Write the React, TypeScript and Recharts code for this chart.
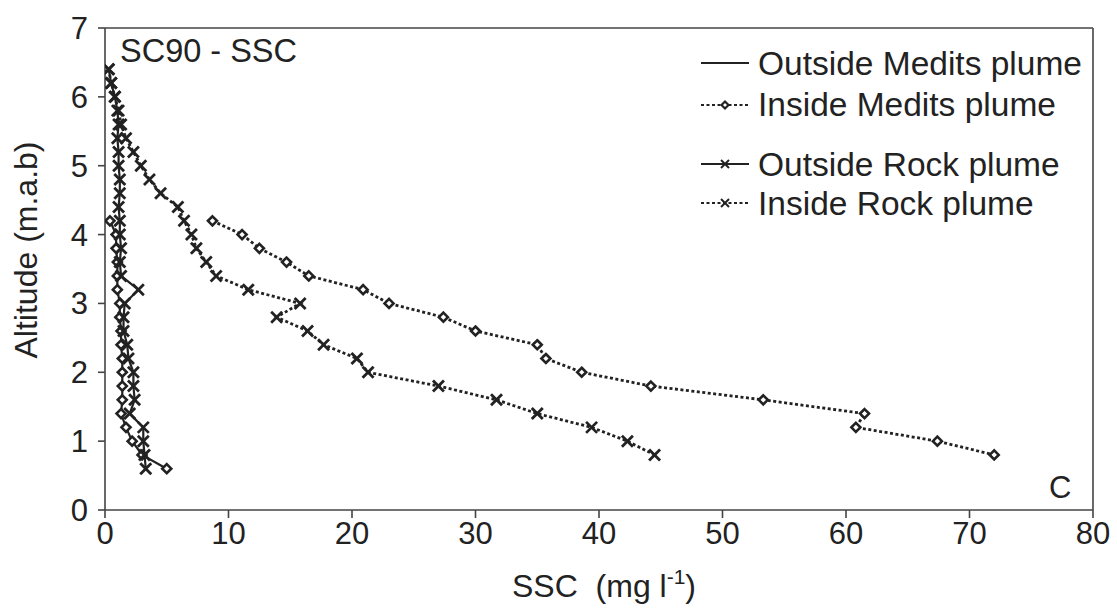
import React from 'react';
import { LineChart, Line, XAxis, YAxis, ReferenceLine, Customized } from 'recharts';

// Altitude (m.a.b) and SSC (mg/l) per profile
const outsideMeditsAlt = [4.2, 4.0, 3.8, 3.6, 3.4, 3.2, 3.0, 2.8, 2.6, 2.4, 2.2, 2.0, 1.8, 1.6, 1.4, 1.2, 1.0, 0.8, 0.6];
const outsideMeditsSSC = [0.4, 0.9, 0.9, 1.0, 1.0, 1.0, 1.2, 1.2, 1.3, 1.3, 1.4, 1.4, 1.4, 1.4, 1.3, 1.7, 2.2, 3.0, 5.0];

const insideMeditsAlt = [4.2, 4.0, 3.8, 3.6, 3.4, 3.2, 3.0, 2.8, 2.6, 2.4, 2.2, 2.0, 1.8, 1.6, 1.4, 1.2, 1.0, 0.8];
const insideMeditsSSC = [8.7, 11.1, 12.5, 14.7, 16.5, 20.9, 23.0, 27.4, 30.0, 35.0, 35.7, 38.6, 44.2, 53.3, 61.5, 60.8, 67.4, 72.0];

const outsideRockAlt = [6.4, 6.2, 6.0, 5.8, 5.6, 5.4, 5.2, 5.0, 4.8, 4.6, 4.4, 4.2, 4.0, 3.8, 3.6, 3.4, 3.2, 3.0, 2.8, 2.6, 2.4, 2.2, 2.0, 1.8, 1.6, 1.4, 1.2, 1.0, 0.8, 0.6];
const outsideRockSSC = [0.3, 0.5, 0.8, 1.0, 1.1, 1.0, 1.1, 1.1, 1.2, 1.2, 1.1, 1.2, 1.2, 1.3, 1.2, 1.3, 2.7, 1.6, 1.5, 1.5, 1.8, 1.9, 2.3, 2.3, 2.4, 2.0, 3.1, 3.1, 3.2, 3.3];

const insideRockAlt = [6.4, 6.2, 6.0, 5.8, 5.6, 5.4, 5.2, 5.0, 4.8, 4.6, 4.4, 4.2, 4.0, 3.8, 3.6, 3.4, 3.2, 3.0, 2.8, 2.6, 2.4, 2.2, 2.0, 1.8, 1.6, 1.4, 1.2, 1.0, 0.8];
const insideRockSSC = [0.3, 0.5, 0.8, 1.1, 1.3, 1.7, 2.3, 2.9, 3.6, 4.5, 5.9, 6.4, 7.0, 7.4, 8.2, 9.0, 11.6, 15.8, 13.9, 16.4, 17.7, 20.4, 21.3, 27.0, 31.7, 35.0, 39.4, 42.3, 44.5];

const xTicks = [0, 10, 20, 30, 40, 50, 60, 70, 80];
const yTicks = [0, 1, 2, 3, 4, 5, 6, 7];

const legendLabels = ['Outside Medits plume', 'Inside Medits plume', 'Outside Rock plume', 'Inside Rock plume'];
const titleText = 'SC90 - SSC';
const panelLetter = 'C';

const toPoints = (alt: number[], ssc: number[]) => alt.map((a, i) => ({ x: ssc[i], y: a }));

const INK = '#222';
const FONT = '"Liberation Sans", Arial, Helvetica, sans-serif';
const DASH = '3 2.5';

const diamondPath = (cx: number, cy: number, r: number) =>
  `M${cx},${cy - r}L${cx + r},${cy}L${cx},${cy + r}L${cx - r},${cy}Z`;

const DiamondDot = (props: any) => {
  const { cx, cy, index } = props;
  if (cx == null || cy == null) return <g key={`d-${index}`} />;
  return <path key={`d-${index}`} d={diamondPath(cx, cy, 4.5)} fill="#fff" stroke={INK} strokeWidth={2.6} />;
};

const CrossDot = (props: any) => {
  const { cx, cy, index } = props;
  if (cx == null || cy == null) return <g key={`x-${index}`} />;
  const r = 5.5;
  return (
    <g key={`x-${index}`}>
      <line x1={cx - r} y1={cy - r} x2={cx + r} y2={cy + r} stroke={INK} strokeWidth={2.8} />
      <line x1={cx - r} y1={cy + r} x2={cx + r} y2={cy - r} stroke={INK} strokeWidth={2.8} />
    </g>
  );
};

const Annotations = () => {
  const rows = [
    { ty: 75, ly: 63, dash: undefined as string | undefined, marker: 'none' },
    { ty: 116, ly: 105, dash: DASH, marker: 'diamond' },
    { ty: 176, ly: 164, dash: undefined, marker: 'cross' },
    { ty: 215, ly: 203, dash: DASH, marker: 'cross' },
  ];
  return (
    <g fontFamily={FONT} fill={INK}>
      <text x={120} y={62} fontSize={32.5}>{titleText}</text>
      <text x={1049} y={498} fontSize={31}>{panelLetter}</text>
      {rows.map((r, i) => (
        <g key={i}>
          <line x1={701} x2={749} y1={r.ly} y2={r.ly} stroke={INK} strokeWidth={2.2} strokeDasharray={r.dash} />
          {r.marker === 'diamond' && (
            <path d={diamondPath(725, r.ly, 3.5)} fill="#fff" stroke={INK} strokeWidth={2.2} />
          )}
          {r.marker === 'cross' && (
            <g>
              <line x1={721} y1={r.ly - 4} x2={729} y2={r.ly + 4} stroke={INK} strokeWidth={2} />
              <line x1={721} y1={r.ly + 4} x2={729} y2={r.ly - 4} stroke={INK} strokeWidth={2} />
            </g>
          )}
          <text x={758} y={r.ty} fontSize={33.5}>{legendLabels[i]}</text>
        </g>
      ))}
    </g>
  );
};

const XLabel = (props: any) => {
  const vb = props.viewBox || {};
  const cx = (vb.x ?? 105) + (vb.width ?? 988) / 2;
  return (
    <text x={cx + 5} y={597} textAnchor="middle" fontFamily={FONT} fontSize={32} fill={INK}>
      {'SSC\u00A0\u00A0(mg l'}
      <tspan dy={-13} fontSize={21}>-1</tspan>
      <tspan dy={13}>)</tspan>
    </text>
  );
};

const YLabel = () => (
  <text
    x={0}
    y={0}
    transform="translate(37,250) rotate(-90)"
    textAnchor="middle"
    fontFamily={FONT}
    fontSize={32}
    fill={INK}
  >
    Altitude (m.a.b)
  </text>
);

export default function App() {
  return (
    <div style={{ position: 'absolute', left: 0, top: 0, width: 1117, height: 613, background: '#fff' }}>
      <LineChart width={1117} height={613} margin={{ top: 28, right: 24, left: 0, bottom: 0 }}>
        <XAxis
          type="number"
          dataKey="x"
          domain={[0, 80]}
          ticks={xTicks}
          allowDataOverflow
          height={103}
          tickSize={8}
          tickMargin={4}
          stroke="#444"
          strokeWidth={1.6}
          tick={{ fontSize: 31, fill: INK, fontFamily: FONT }}
          label={<XLabel />}
        />
        <YAxis
          type="number"
          dataKey="y"
          domain={[0, 7]}
          ticks={yTicks}
          allowDataOverflow
          width={105}
          tickSize={7}
          tickMargin={10}
          stroke="#444"
          strokeWidth={1.6}
          tick={{ fontSize: 31, fill: INK, fontFamily: FONT }}
          label={<YLabel />}
        />
        <ReferenceLine y={7} stroke="#444" strokeWidth={1.6} />
        <ReferenceLine x={80} stroke="#444" strokeWidth={1.6} />
        <Line
          data={toPoints(outsideMeditsAlt, outsideMeditsSSC)}
          dataKey="y"
          name={legendLabels[0]}
          stroke={INK}
          strokeWidth={2.2}
          dot={DiamondDot}
          isAnimationActive={false}
        />
        <Line
          data={toPoints(insideMeditsAlt, insideMeditsSSC)}
          dataKey="y"
          name={legendLabels[1]}
          stroke={INK}
          strokeWidth={2.8}
          strokeDasharray={DASH}
          dot={DiamondDot}
          isAnimationActive={false}
        />
        <Line
          data={toPoints(outsideRockAlt, outsideRockSSC)}
          dataKey="y"
          name={legendLabels[2]}
          stroke={INK}
          strokeWidth={2.2}
          dot={CrossDot}
          isAnimationActive={false}
        />
        <Line
          data={toPoints(insideRockAlt, insideRockSSC)}
          dataKey="y"
          name={legendLabels[3]}
          stroke={INK}
          strokeWidth={2.8}
          strokeDasharray={DASH}
          dot={CrossDot}
          isAnimationActive={false}
        />
        <Customized component={Annotations} />
      </LineChart>
    </div>
  );
}
